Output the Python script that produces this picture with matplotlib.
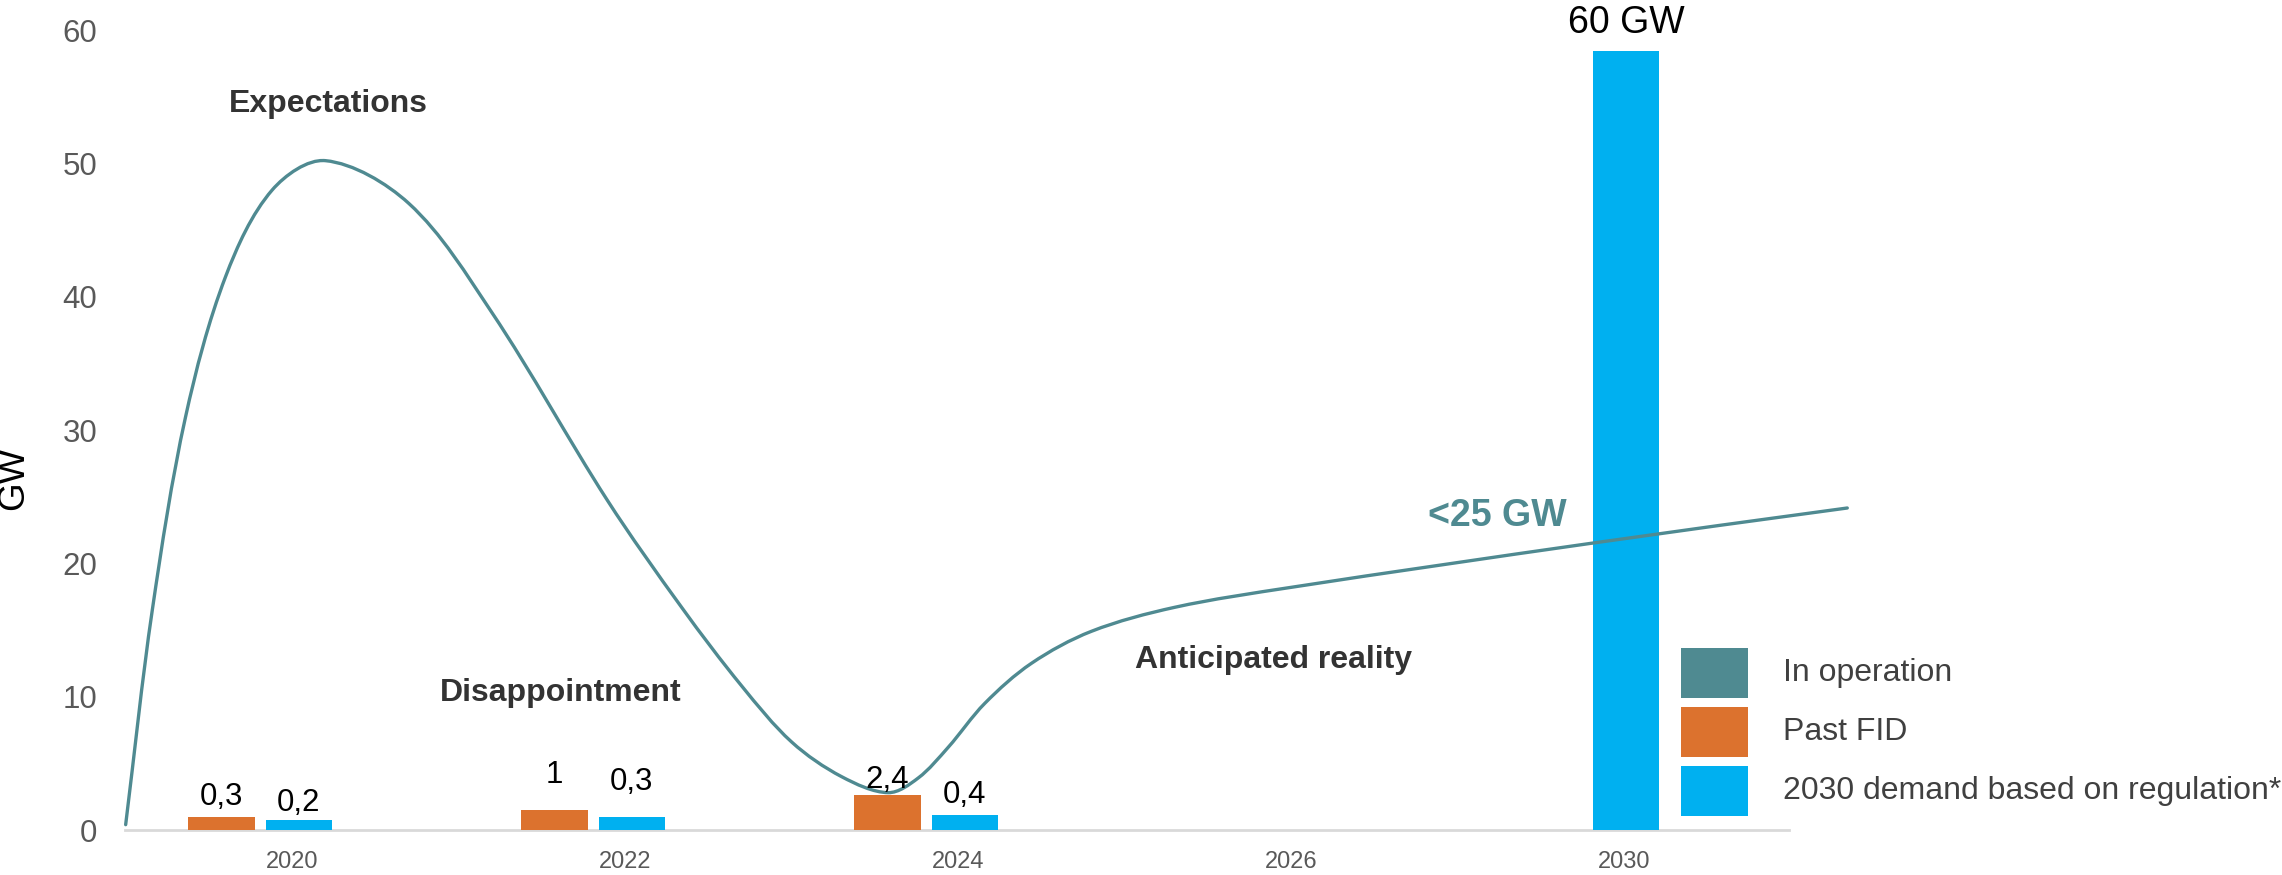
import matplotlib
matplotlib.use('Agg')
import matplotlib.pyplot as plt
from matplotlib.path import Path
from matplotlib.patches import PathPatch, Rectangle
import numpy as np

plt.rcParams['font.family'] = ['Liberation Sans', 'DejaVu Sans']

# ---------------- data ----------------
categories = ['2020', '2022', '2024', '2026', '2030']

past_fid_cat = [0, 1, 2]
past_fid_height = [1.0, 1.5, 2.6]          # bar heights as drawn
past_fid_label = ['0,3', '1', '2,4']

demand_cat = [0, 1, 2, 4]
demand_height = [0.75, 1.0, 1.1, 58.4]     # bar heights as drawn
demand_label = ['0,2', '0,3', '0,4', '60 GW']

# hype-cycle curve (x in category units, y in GW)
curve_x = [-0.50, -0.42, -0.32, -0.20, -0.06, 0.10,
           0.35, 0.60, 0.946, 1.171, 1.35, 1.50, 1.65, 1.79,
           1.88, 1.97, 2.08, 2.22, 2.40, 2.65, 3.00, 3.90, 4.67]
curve_y = [0.4, 16.5, 31.0, 41.5, 48.0, 50.2,
           47.0, 38.8, 24.75, 16.65, 10.8, 6.6, 4.0, 2.8,
           3.9, 6.2, 9.5, 12.5, 14.9, 16.7, 18.2, 21.5, 24.15]

legend_labels = ['In operation', 'Past FID', '2030 demand based on regulation*']

# ---------------- style ----------------
TEAL = '#4F8A91'
ORANGE = '#DC722E'
BLUE = '#00B0F0'
GREY = '#595959'

W, H = 2282, 875
fig = plt.figure(figsize=(W / 100, H / 100), dpi=100)
ax = fig.add_axes([125 / W, (H - 830) / H, (1789 - 125) / W, 800 / H])
ax.set_xlim(-0.502, 4.495)
ax.set_ylim(0, 60)

bw = 0.2
# bars
for c, h, lab, dy in zip(past_fid_cat, past_fid_height, past_fid_label, [0.9, 2.0, 0.55]):
    x = c - 0.212
    ax.bar(x, h, width=bw, color=ORANGE, zorder=2)
    ax.text(x, h + dy, lab, ha='center', va='baseline', fontsize=22.5, color='black', zorder=4)

for c, h, lab, dy in zip(demand_cat, demand_height, demand_label, [0.7, 2.0, 0.9, 1.4]):
    x = c + (0.02 if c != 4 else 0.005)
    ax.bar(x, h, width=bw, color=BLUE, zorder=2)
    fs = 27 if c == 4 else 22.5
    ax.text(x, h + dy, lab, ha='center', va='baseline', fontsize=fs, color='black', zorder=4)

# smooth curve (Hermite spline with chord-length parameter)
pts = np.column_stack([curve_x, curve_y]).astype(float)
scale = np.array([333.0, 13.33])
sp = pts * scale
t = np.concatenate([[0], np.cumsum(np.hypot(*np.diff(sp, axis=0).T))])
n = len(pts)
m = np.zeros_like(pts)
for i in range(n):
    if i == 0:
        m[i] = (pts[1] - pts[0]) / (t[1] - t[0])
    elif i == n - 1:
        m[i] = (pts[-1] - pts[-2]) / (t[-1] - t[-2])
    else:
        m[i] = (pts[i + 1] - pts[i - 1]) / (t[i + 1] - t[i - 1])
verts = [pts[0]]
codes = [Path.MOVETO]
for i in range(n - 1):
    dt = t[i + 1] - t[i]
    verts += [pts[i] + m[i] * dt / 3, pts[i + 1] - m[i + 1] * dt / 3, pts[i + 1]]
    codes += [Path.CURVE4] * 3
patch = PathPatch(Path(verts, codes), fill=False, edgecolor=TEAL, lw=2.4,
                  transform=ax.transData, clip_on=False, zorder=3, capstyle='round')
ax.add_patch(patch)

# annotations
ax.text(0.108, 53.85, 'Expectations', ha='center', va='baseline', fontsize=23,
        fontweight='bold', color='#333333')
ax.text(0.805, 9.7, 'Disappointment', ha='center', va='baseline', fontsize=23,
        fontweight='bold', color='#333333')
ax.text(2.946, 12.15, 'Anticipated reality', ha='center', va='baseline', fontsize=23,
        fontweight='bold', color='#333333')
ax.text(3.62, 22.8, '<25 GW', ha='center', va='baseline', fontsize=27,
        fontweight='bold', color=TEAL)

# axes styling
for sname in ['top', 'right', 'left']:
    ax.spines[sname].set_visible(False)
ax.spines['bottom'].set_color('#D9D9D9')
ax.spines['bottom'].set_linewidth(2)
ax.spines['bottom'].set_zorder(1)
ax.set_xticks(range(len(categories)))
ax.set_xticklabels(categories)
ax.set_yticks(range(0, 61, 10))
ax.tick_params(axis='x', length=0, pad=15, labelsize=17, labelcolor=GREY)
ax.tick_params(axis='y', length=0, pad=20, labelsize=22.5, labelcolor=GREY)
ax.text(-0.0667, 0.44, 'GW', transform=ax.transAxes, rotation=90, ha='center',
        va='center', fontsize=26.5, color='black')

# legend
legend_colors = [TEAL, ORANGE, BLUE]
rows = [648, 707, 766]
for y0, col, lab in zip(rows, legend_colors, legend_labels):
    fig.add_artist(Rectangle((1681 / W, 1 - (y0 + 50) / H), 67 / W, 50 / H,
                             transform=fig.transFigure, color=col, lw=0))
    fig.text(1783 / W, 1 - (y0 + 25) / H, lab, ha='left', va='center',
             fontsize=23, color='#404040')

fig.savefig('out.png', dpi=100)
